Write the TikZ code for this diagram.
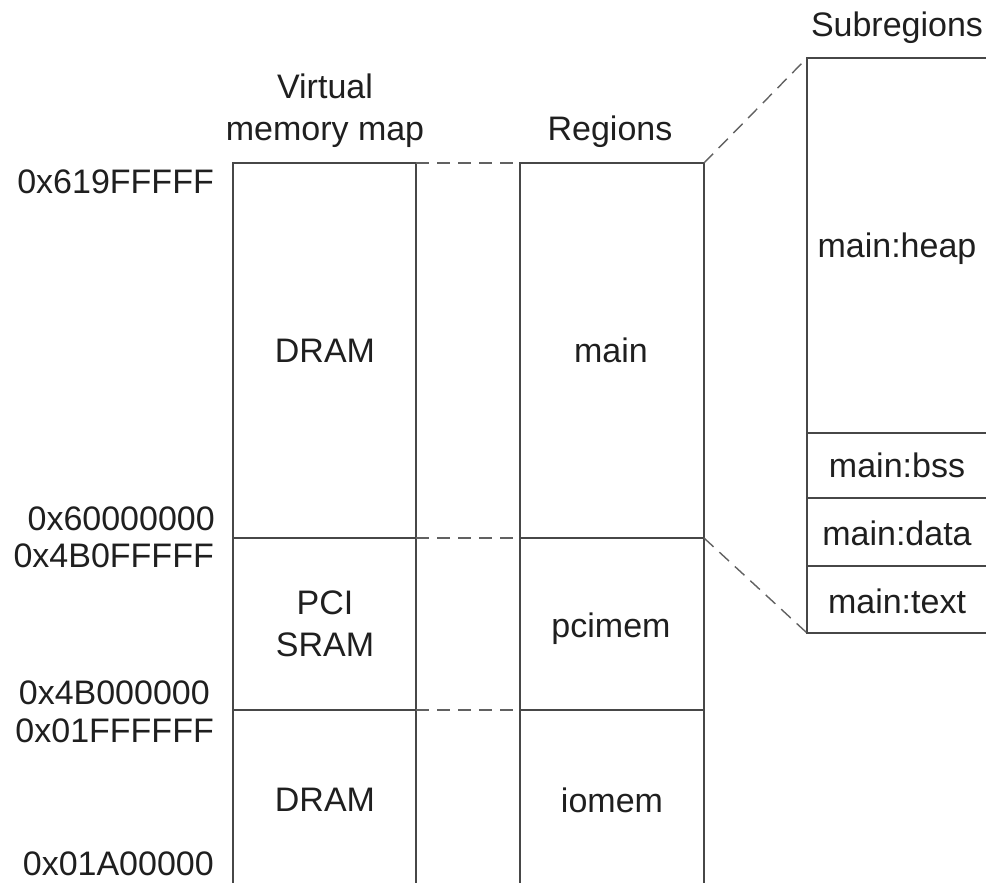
\documentclass[tikz,border=0pt]{standalone}
\usepackage{fontspec}
\setmainfont{Liberation Sans}
\begin{document}
\begin{tikzpicture}[x=1pt,y=-1pt,
  rule/.style={line width=1.5pt, draw=black!72},
  link/.style={line width=1.4pt, draw=black!62, dash pattern=on 13pt off 8pt},
  lbl/.style={font=\fontsize{34}{41.5}\selectfont, text=black!88, inner sep=0pt, anchor=base, align=center},
  addr/.style={lbl, anchor=base east}]
\useasboundingbox (0,0) rectangle (986,883);
\clip (0,0) rectangle (986,883);

% corners of the three columns
\coordinate (vtl) at (233,163);  \coordinate (vtr) at (416,163);
\coordinate (v1l) at (233,538);  \coordinate (v1r) at (416,538);
\coordinate (v2l) at (233,710);  \coordinate (v2r) at (416,710);
\coordinate (vbl) at (233,890);  \coordinate (vbr) at (416,890);
\coordinate (rtl) at (520,163);  \coordinate (rtr) at (704,163);
\coordinate (r1l) at (520,538);  \coordinate (r1r) at (704,538);
\coordinate (r2l) at (520,710);  \coordinate (r2r) at (704,710);
\coordinate (rbl) at (520,890);  \coordinate (rbr) at (704,890);
\coordinate (stl) at (807,58);   \coordinate (str) at (995,58);
\coordinate (s1l) at (807,433);  \coordinate (s1r) at (995,433);
\coordinate (s2l) at (807,498);  \coordinate (s2r) at (995,498);
\coordinate (s3l) at (807,566);  \coordinate (s3r) at (995,566);
\coordinate (sbl) at (807,633);  \coordinate (sbr) at (995,633);

% virtual memory map column
\draw[rule] (vbl) -- (vtl) -- (vtr) -- (vbr);
\draw[rule] (v1l) -- (v1r);
\draw[rule] (v2l) -- (v2r);

% regions column
\draw[rule] (rbl) -- (rtl) -- (rtr) -- (rbr);
\draw[rule] (r1l) -- (r1r);
\draw[rule] (r2l) -- (r2r);

% subregions column
\draw[rule] (str) -- (stl) -- (sbl) -- (sbr);
\draw[rule] (s1l) -- (s1r);
\draw[rule] (s2l) -- (s2r);
\draw[rule] (s3l) -- (s3r);

% dashed correspondences
\draw[link] (vtr) -- (rtl);
\draw[link] (v1r) -- (r1l);
\draw[link] (v2r) -- (r2l);
\draw[link] (rtr) -- (stl);
\draw[link] (r1r) -- (sbl);

% column headings (multi-line nodes sit on their last baseline)
\node[lbl] (hvirt) at (325,140) {Virtual\\memory map};
\node[lbl] (hreg) at (610,140) {Regions};
\node[lbl] (hsub) at (897,37) {Subregions};

% addresses
\node[addr] (a1) at (214,193) {0x619FFFFF};
\node[addr] (a2) at (215,530) {0x60000000};
\node[addr] (a3) at (214,567) {0x4B0FFFFF};
\node[addr] (a4) at (210,704) {0x4B000000};
\node[addr] (a5) at (214,742) {0x01FFFFFF};
\node[addr] (a6) at (214,875) {0x01A00000};

% memory map contents
\node[lbl] (dram1) at (325,362) {DRAM};
\node[lbl] (pci) at (325,656) {PCI\\SRAM};
\node[lbl] (dram2) at (325,811) {DRAM};

% regions
\node[lbl] (main) at (611,362) {main};
\node[lbl] (pcimem) at (611,637) {pcimem};
\node[lbl] (iomem) at (612,812) {iomem};

% subregions
\node[lbl] (heap) at (897,257) {main:heap};
\node[lbl] (bss) at (897,477) {main:bss};
\node[lbl] (data) at (897,545) {main:data};
\node[lbl] (text) at (897,613) {main:text};
\end{tikzpicture}
\end{document}
